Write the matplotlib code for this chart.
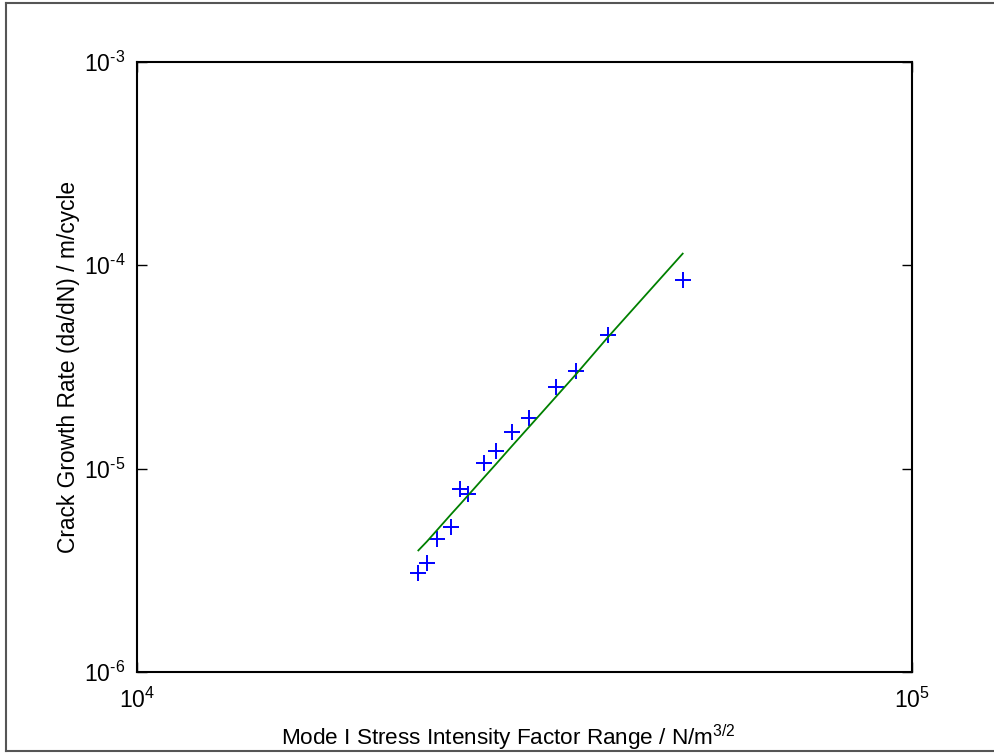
import matplotlib
matplotlib.use("Agg")
import matplotlib.pyplot as plt
from matplotlib.lines import Line2D
from matplotlib.ticker import LogLocator, NullLocator, FuncFormatter
import numpy as np

plt.rcParams['font.family'] = ['Liberation Sans', 'DejaVu Sans']
plt.rcParams['mathtext.fontset'] = 'custom'
plt.rcParams['mathtext.rm'] = 'Liberation Sans'
plt.rcParams['mathtext.it'] = 'Liberation Sans'
plt.rcParams['mathtext.default'] = 'regular'
plt.rcParams['axes.unicode_minus'] = False

# stress intensity factor range (N/m^3/2) and crack growth rate (m/cycle)
delta_k = [23090, 23670, 24390, 25420, 26140, 26790, 28090,
           29060, 30470, 32110, 34760, 36880, 40530, 50640]
dadn = [3.09e-6, 3.46e-6, 4.52e-6, 5.19e-6, 7.95e-6, 7.52e-6, 1.063e-5,
        1.223e-5, 1.51e-5, 1.77e-5, 2.53e-5, 3.03e-5, 4.54e-5, 8.46e-5]
# fitted line read at the same x values
fit = [3.97e-6, 4.38e-6, 4.98e-6, 5.95e-6, 6.69e-6, 7.43e-6, 9.10e-6,
       1.051e-5, 1.289e-5, 1.611e-5, 2.26e-5, 2.91e-5, 4.42e-5, 1.14e-4]


def pow10(v, pos):
    e = int(round(np.log10(v)))
    if e < 0:
        return r'$10^{\text{-}%d}$' % -e
    return r'$10^{%d}$' % e


fig = plt.figure(figsize=(9.95, 7.53), dpi=100)
ax = fig.add_axes([0.1374, 0.1072, 0.7789, 0.8109])

ax.plot(delta_k, dadn, '+', color='#0000ff', ms=11, mew=1.4)
ax.plot(delta_k, fit, '-', color='#008000', lw=1.3)

ax.set_xscale('log')
ax.set_yscale('log')
ax.set_xlim(1e4, 1e5)
ax.set_ylim(1e-6, 1e-3)
for axis in (ax.xaxis, ax.yaxis):
    axis.set_major_locator(LogLocator(base=10))
    axis.set_minor_locator(NullLocator())
    axis.set_major_formatter(FuncFormatter(pow10))
ax.tick_params(which='major', direction='in', length=7, width=1,
               top=True, right=True, labelsize=16.5)
ax.tick_params(axis='x', pad=11)
ax.tick_params(axis='y', pad=8)
for s in ax.spines.values():
    s.set_linewidth(1.5)

ax.set_xlabel('Mode I Stress Intensity Factor Range / N/m$^{3/2}$',
              fontsize=16.2, va='top')
ax.xaxis.set_label_coords(0.48, -0.083)
ax.set_ylabel('Crack Growth Rate (da/dN) / m/cycle', fontsize=16.4)
ax.yaxis.set_label_coords(-0.0735, 0.5)

# figure border (left, top, bottom)
W, H = 995, 753
for xs, ys in [([6, 6], [3, 751]), ([6, W], [3, 3]), ([6, W], [751, 751])]:
    fig.add_artist(Line2D([x / W for x in xs], [1 - y / H for y in ys],
                          transform=fig.transFigure, color='#555555', lw=1.5))

fig.savefig('out.png', dpi=100)
